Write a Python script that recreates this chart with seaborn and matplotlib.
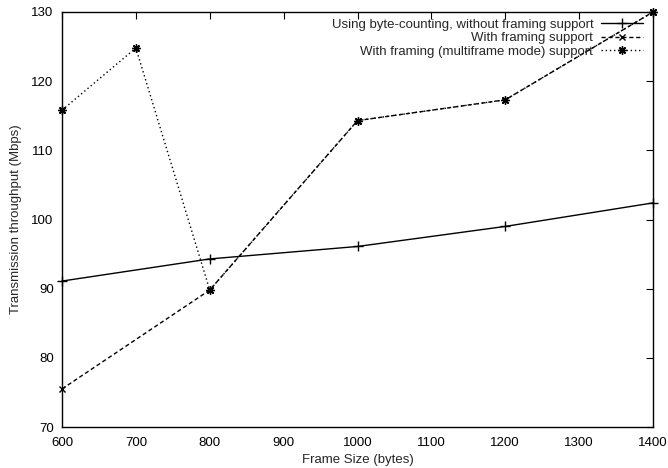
import matplotlib
matplotlib.use("Agg")
import matplotlib.pyplot as plt
import seaborn as sns
import pandas as pd

x1 = [600, 800, 1000, 1200, 1400]
y1 = [91.1, 94.3, 96.1, 99.0, 102.4]
x2 = [600, 800, 1000, 1200, 1400]
y2 = [75.5, 89.8, 114.3, 117.3, 130.0]
x3 = [600, 700, 800, 1000, 1200, 1400]
y3 = [115.8, 124.8, 89.8, 114.3, 117.3, 130.0]
labels = ["Using byte-counting, without framing support",
          "With framing support",
          "With framing (multiframe mode) support"]
xticks = [600, 700, 800, 900, 1000, 1100, 1200, 1300, 1400]
yticks = [70, 80, 90, 100, 110, 120, 130]

sns.set_style("white")
plt.rcParams['font.family'] = ['Liberation Sans', 'DejaVu Sans']
plt.rcParams['xtick.direction'] = 'in'
plt.rcParams['ytick.direction'] = 'in'

FS = 9.5
fig = plt.figure(figsize=(6.68, 4.68), dpi=100)
ax = fig.add_axes([62/668, 41/468, (653-62)/668, (427-12)/468])

common = dict(ax=ax, color='black', lw=1.0, mec='black', mfc='black',
              mew=1.0, clip_on=False)
sns.lineplot(x=x1, y=y1, marker='+', ms=7, label=labels[0], **common)
sns.lineplot(x=x2, y=y2, ls=(0, (3, 2)), marker='x', ms=5,
             label=labels[1], **common)
sns.lineplot(x=x3, y=y3, ls=(0, (1, 2)), marker=(8, 2, 0), ms=6,
             label=labels[2], **common)

ax.set_xlim(600, 1400)
ax.set_ylim(70, 130)
ax.set_xticks(xticks)
ax.set_yticks(yticks)
ax.tick_params(axis='both', which='both', direction='in', length=5, width=0.8,
               top=True, right=True, labelsize=FS, colors='black')
ax.tick_params(axis='x', pad=7)
ax.tick_params(axis='y', pad=6)
for s in ax.spines.values():
    s.set_visible(True)
    s.set_color('black')
    s.set_linewidth(1.0)
ax.set_xlabel("Frame Size (bytes)", fontsize=FS, labelpad=4)
ax.set_ylabel("Transmission throughput (Mbps)", fontsize=FS, labelpad=7)

leg = ax.legend(loc='upper right', bbox_to_anchor=(0.995, 1.0), frameon=False,
                markerfirst=False, fontsize=FS, handlelength=3.2,
                handletextpad=0.6, labelspacing=0.1, borderaxespad=0.1)

fig.savefig("out.png", dpi=100)
